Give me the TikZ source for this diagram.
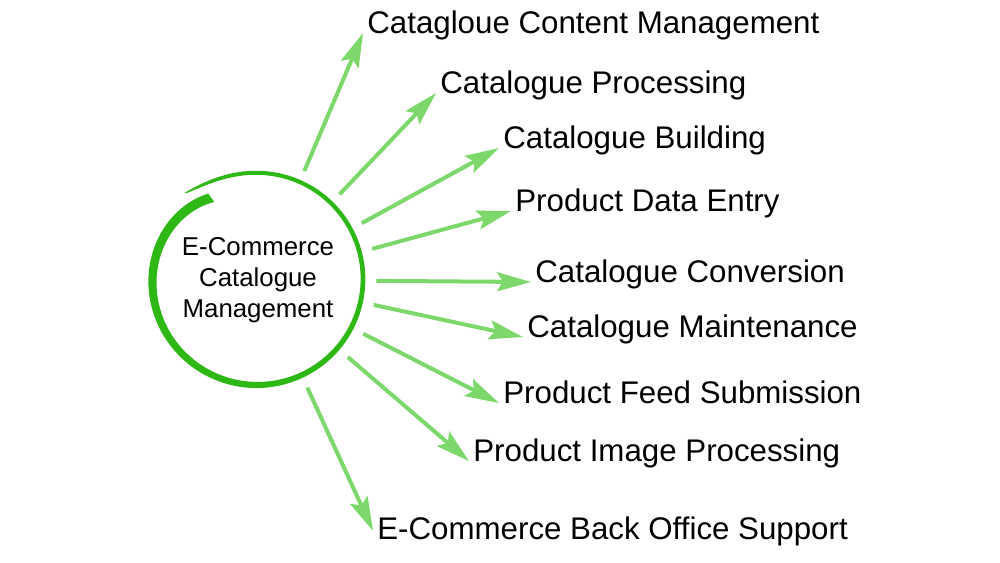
\documentclass[tikz,border=0pt]{standalone}
\usepackage{fontspec}
\setmainfont{Liberation Sans}
\usepackage{xcolor}
\usetikzlibrary{arrows.meta, positioning}
\definecolor{leafgreen}{HTML}{2EB816}
\definecolor{lightleaf}{HTML}{7DD86C}
\tikzset{
  topic/.style={font=\fontsize{17.8}{20}\selectfont, anchor=base west, inner xsep=0.08cm, inner ysep=0pt},
  spoke/.style={draw=lightleaf, line width=0.08cm, -{Stealth[length=0.68cm, width=0.38cm, inset=0.12cm]}},
  declare function={rr(\u)=106+6*exp(-30*\u)-13*\u^12; ww(\u)=1+(3+6*\u^2)*(1-exp(-40*\u));}
}

\begin{document}
\begin{tikzpicture}[x=0.02cm, y=-0.02cm]
        \useasboundingbox (0,0) rectangle (1000,562);
        % Brush ring
        \fill[leafgreen] plot[domain=0:1, samples=150, variable=\t]
            ({257+(rr(\t)+ww(\t)/2)*cos(130-371*\t)}, {279-(rr(\t)+ww(\t)/2)*sin(130-371*\t)})
          -- plot[domain=1:0, samples=150, variable=\t]
            ({257+(rr(\t)-ww(\t)/2)*cos(130-371*\t)}, {279-(rr(\t)-ww(\t)/2)*sin(130-371*\t)})
          -- cycle;
        % Hub
        \node[circle, minimum size=4.72cm, inner sep=0pt, align=center,
              font=\fontsize{14.7}{17.6}\selectfont] (hub) at (258,280)
              {E-Commerce\\Catalogue\\Management};
        % Topics
        \node[topic] (l1) at (363,33) {Catagloue Content Management};
        \node[topic] (l2) at (436,93) {Catalogue Processing};
        \node[topic] (l3) at (499,148) {Catalogue Building};
        \node[topic] (l4) at (511,211) {Product Data Entry};
        \node[topic] (l5) at (531,282) {Catalogue Conversion};
        \node[topic] (l6) at (523,337) {Catalogue Maintenance};
        \node[topic] (l7) at (499,403) {Product Feed Submission};
        \node[topic] (l8) at (469,461) {Product Image Processing};
        \node[topic] (l9) at (373,539) {E-Commerce Back Office Support};
        % Arrows
        \foreach \n in {1,...,8}
          \draw[spoke] (hub) -- (l\n.base west);
        \draw[spoke] (hub) -- (l9.west);
      \end{tikzpicture}
\end{document}
